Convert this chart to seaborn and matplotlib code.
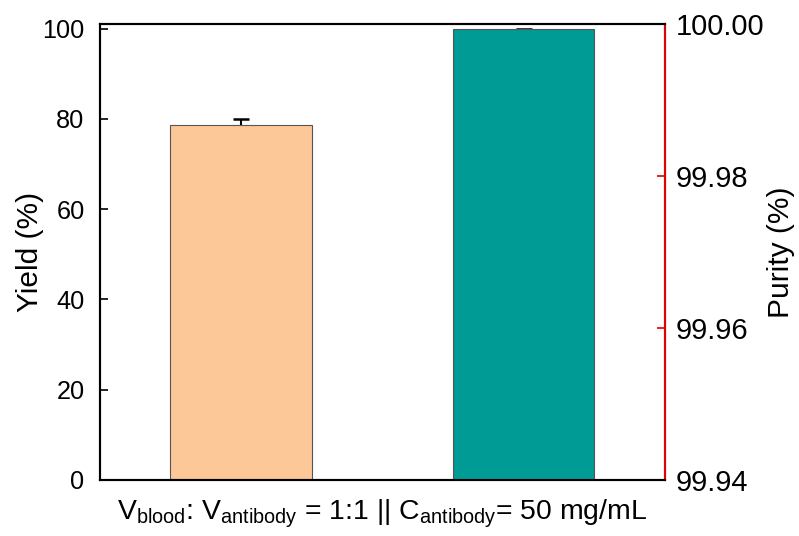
import matplotlib
matplotlib.use("Agg")
import matplotlib.pyplot as plt
import seaborn as sns
import pandas as pd

categories = ["Yield", "Purity"]
yield_value = [78.6]
yield_err = [1.3]
purity_value = [99.9993]
purity_err = [0.0001]
yield_ticks = [0, 20, 40, 60, 80, 100]
purity_ticks = [99.94, 99.96, 99.98, 100.00]
xlabel_text = r"V$_\mathregular{blood}$: V$_\mathregular{antibody}$ = 1:1 || C$_\mathregular{antibody}$= 50 mg/mL"

sns.set_theme(style="white")
plt.rcParams['font.family'] = ['Liberation Sans', 'DejaVu Sans']
plt.rcParams['mathtext.fontset'] = 'custom'
plt.rcParams['mathtext.rm'] = 'Liberation Sans'
plt.rcParams['text.color'] = 'black'
plt.rcParams['axes.labelcolor'] = 'black'
plt.rcParams['xtick.color'] = 'black'
plt.rcParams['ytick.color'] = 'black'

fig = plt.figure(figsize=(7.99, 5.36), dpi=100)
ax = fig.add_axes([0.125, 0.1045, 0.707, 0.8505])
ax2 = ax.twinx()

df1 = pd.DataFrame({"cat": ["Yield"], "val": yield_value})
df2 = pd.DataFrame({"cat": ["Purity"], "val": purity_value})

ax.errorbar([0], yield_value, yerr=[yield_err, yield_err], fmt="none", ecolor="black",
            elinewidth=1.5, capsize=6, capthick=1.8, zorder=0.5)
ax2.errorbar([1], purity_value, yerr=[purity_err, purity_err], fmt="none", ecolor="black",
             elinewidth=1.5, capsize=6, capthick=1.8, zorder=0.5)

sns.barplot(data=df1, x="cat", y="val", order=categories, ax=ax, width=0.5,
            color="#FDC897", edgecolor="#555555", linewidth=0.8, saturation=1, errorbar=None, zorder=2)
sns.barplot(data=df2, x="cat", y="val", order=categories, ax=ax2, width=0.5,
            color="#009B95", edgecolor="#555555", linewidth=0.8, saturation=1, errorbar=None, zorder=2)

ax.set_xlim(-0.5, 1.5)
ax.set_ylim(0, 101)
ax2.set_ylim(99.94, 100.00)
ax.set_yticks(yield_ticks)
ax2.set_yticks(purity_ticks)
ax2.set_yticklabels([f"{t:.2f}" for t in purity_ticks])
ax.set_xticks([0, 1])
ax.set_xticklabels(["", ""])

ax.set_ylabel("Yield (%)", fontsize=21.5, labelpad=-1, color="black")
ax2.set_ylabel("Purity (%)", fontsize=21.5, labelpad=2, color="black")
ax.set_xlabel(xlabel_text, fontsize=20.4, labelpad=9, color="black")
ax2.set_xlabel("")

for a in (ax, ax2):
    for s in a.spines.values():
        s.set_color("black")
        s.set_linewidth(1.5)
ax2.spines["right"].set_color("#E00000")

ax.tick_params(axis="y", direction="in", length=6, width=1.2, labelsize=18.2, colors="black", left=True, pad=11)
ax.tick_params(axis="x", direction="in", length=6, width=1.2, bottom=True)
ax2.tick_params(axis="y", direction="in", length=6, width=1.2, labelsize=21, colors="#E00000",
                labelcolor="black", right=True, pad=8)

fig.savefig("out.png", dpi=100)
